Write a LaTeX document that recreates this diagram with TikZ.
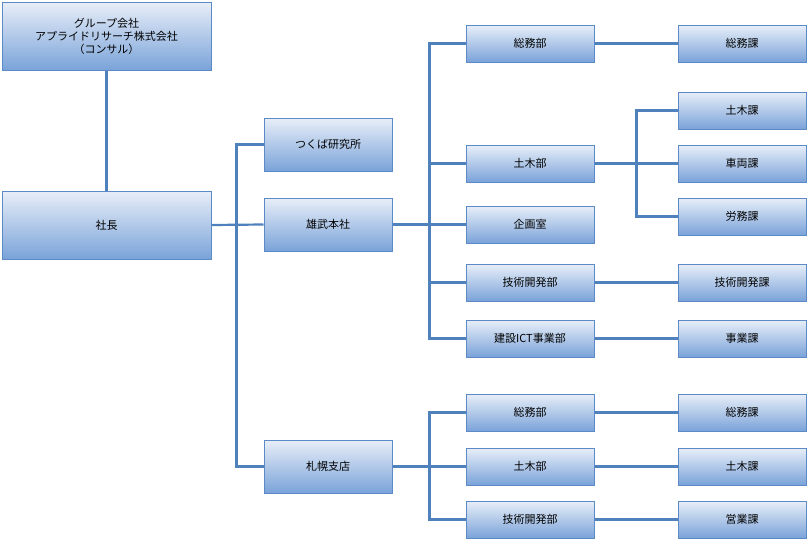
\documentclass[tikz,border=0pt]{standalone}
\usepackage{fontspec}
\setmainfont{Noto Sans CJK JP}
\definecolor{ln}{HTML}{4F81BD}
\definecolor{bd}{HTML}{5B8AC6}
\definecolor{tp}{HTML}{E8EEF8}
\definecolor{bt}{HTML}{7AA3D9}
\begin{document}
\begin{tikzpicture}[x=1pt,y=-1pt,
 bx/.style={draw=bd,line width=1pt,top color=tp,bottom color=bt,font=\fontsize{11}{13}\selectfont,align=center,inner sep=0pt},
 cn/.style={draw=ln,line width=2.2pt}]
\useasboundingbox[fill=white] (0,0) rectangle (807,539);
\newcommand\bxn[6]{\node[bx,minimum width={#4-#2},minimum height={#5-#3}] (#1) at ({(#2+#4)/2},{(#3+#5)/2}) {#6};}
\bxn{g}{2}{2}{211}{70}{グループ会社\\アプライドリサーチ株式会社\\（コンサル）}
\bxn{p}{2}{191}{211}{259}{社長}
\bxn{t}{264}{118}{392}{171}{つくば研究所}
\bxn{h}{264}{198}{392}{251}{雄武本社}
\bxn{s}{264}{440}{392}{493}{札幌支店}
\bxn{a1}{466}{25}{594}{62}{総務部}
\bxn{a2}{466}{145}{594}{182}{土木部}
\bxn{a3}{466}{206}{594}{243}{企画室}
\bxn{a4}{466}{264}{594}{301}{技術開発部}
\bxn{a5}{466}{320}{594}{357}{建設ICT事業部}
\bxn{a6}{466}{394}{594}{431}{総務部}
\bxn{a7}{466}{448}{594}{485}{土木部}
\bxn{a8}{466}{501}{594}{538}{技術開発部}
\bxn{b1}{678}{25}{806}{62}{総務課}
\bxn{b2}{678}{92}{806}{129}{土木課}
\bxn{b3}{678}{145}{806}{182}{車両課}
\bxn{b4}{678}{198}{806}{235}{労務課}
\bxn{b5}{678}{264}{806}{301}{技術開発課}
\bxn{b6}{678}{320}{806}{357}{事業課}
\bxn{b7}{678}{394}{806}{431}{総務課}
\bxn{b8}{678}{448}{806}{485}{土木課}
\bxn{b9}{678}{501}{806}{538}{営業課}
\draw[cn] (g) -- (p);
\draw[cn] (p.east) -- (h.west);
\draw[cn] (t.west) -- ++(-27,0) |- (s.west);
\draw[cn] (h.east) -- (a3.west);
\draw[cn] (a1.west) -- ++(-36,0) |- (a5.west);
\draw[cn] (a2.west) -- ++(-36,0);
\draw[cn] (a4.west) -- ++(-36,0);
\draw[cn] (s.east) -- ++(38,0);
\draw[cn] (a6.west) -- ++(-36,0) |- (a8.west);
\draw[cn] (a7.west) -- ++(-36,0);
\draw[cn] (a2.east) -- (b3.west);
\draw[cn] (b2.west) -- ++(-41,0) |- (b4.west);
\draw[cn] (a1.east) -- (b1.west);
\draw[cn] (a4.east) -- (b5.west);
\draw[cn] (a5.east) -- (b6.west);
\draw[cn] (a6.east) -- (b7.west);
\draw[cn] (a7.east) -- (b8.west);
\draw[cn] (a8.east) -- (b9.west);
\end{tikzpicture}
\end{document}
